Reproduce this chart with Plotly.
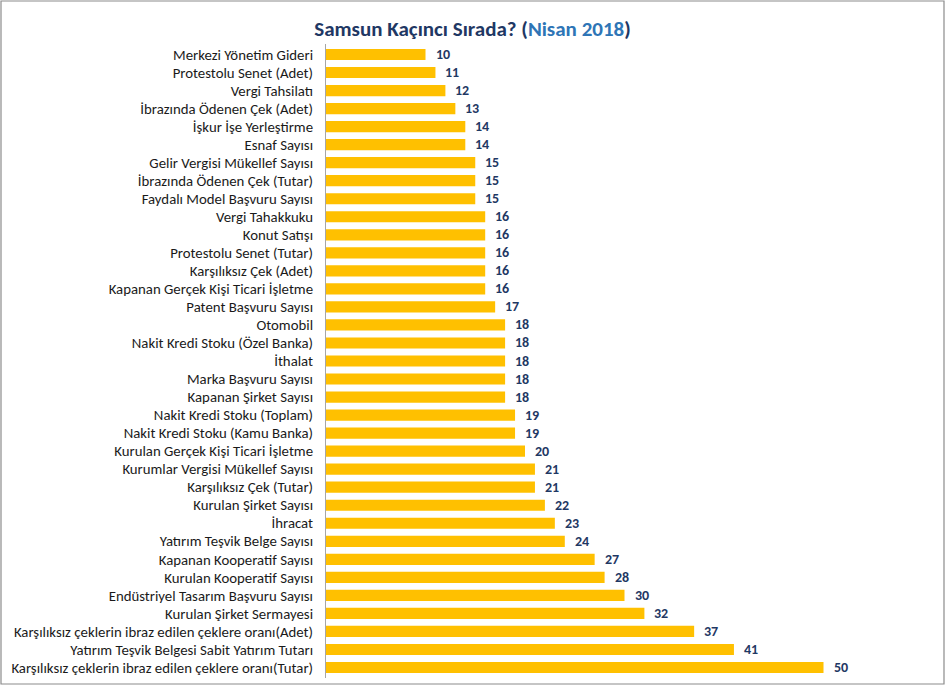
import plotly.graph_objects as go

categories = [
    "Merkezi Yönetim Gideri", "Protestolu Senet (Adet)", "Vergi Tahsilatı",
    "İbrazında Ödenen Çek (Adet)", "İşkur İşe Yerleştirme", "Esnaf Sayısı",
    "Gelir Vergisi Mükellef Sayısı", "İbrazında Ödenen Çek (Tutar)",
    "Faydalı Model Başvuru Sayısı", "Vergi Tahakkuku", "Konut Satışı",
    "Protestolu Senet (Tutar)", "Karşılıksız Çek (Adet)",
    "Kapanan Gerçek Kişi Ticari İşletme", "Patent Başvuru Sayısı", "Otomobil",
    "Nakit Kredi Stoku (Özel Banka)", "İthalat", "Marka Başvuru Sayısı",
    "Kapanan Şirket Sayısı", "Nakit Kredi Stoku (Toplam)",
    "Nakit Kredi Stoku (Kamu Banka)", "Kurulan Gerçek Kişi Ticari İşletme",
    "Kurumlar Vergisi Mükellef Sayısı", "Karşılıksız Çek (Tutar)",
    "Kurulan Şirket Sayısı", "İhracat", "Yatırım Teşvik Belge Sayısı",
    "Kapanan Kooperatif Sayısı", "Kurulan Kooperatif Sayısı",
    "Endüstriyel Tasarım Başvuru Sayısı", "Kurulan Şirket Sermayesi",
    "Karşılıksız çeklerin ibraz edilen çeklere oranı(Adet)",
    "Yatırım Teşvik Belgesi Sabit Yatırım Tutarı",
    "Karşılıksız çeklerin ibraz edilen çeklere oranı(Tutar)",
]
ranks = [10, 11, 12, 13, 14, 14, 15, 15, 15, 16, 16, 16, 16, 16, 17, 18, 18, 18,
         18, 18, 19, 19, 20, 21, 21, 22, 23, 24, 27, 28, 30, 32, 37, 41, 50]

FONT = "Carlito, Liberation Sans, Arial"
W, H = 945, 685
L, R, T, B = 326, 72, 44, 7
pw, ph = W - L - R, H - T - B

fig = go.Figure(go.Bar(
    x=ranks, y=categories, orientation="h",
    marker=dict(color="#FFC000", line=dict(width=0)),
    hoverinfo="x+y",
))

for c, v in zip(categories, ranks):
    fig.add_annotation(x=v, y=c, text=f"<b>{v}</b>", showarrow=False,
                       xanchor="left", xshift=8,
                       font=dict(family=FONT, size=14, color="#1F3864"))

fig.add_shape(type="rect", xref="paper", yref="paper",
              x0=(1 - L) / pw, x1=(W - 1 - L) / pw,
              y0=(H - B - (H - 1)) / ph, y1=(H - B - 1) / ph,
              line=dict(color="#8c8c8c", width=1.2), fillcolor="rgba(0,0,0,0)",
              layer="above")

fig.update_layout(
    width=W, height=H,
    margin=dict(l=L, r=R, t=T, b=B),
    paper_bgcolor="white", plot_bgcolor="white",
    bargap=0.38,
    showlegend=False,
    title=dict(
        text="<b>Samsun Kaçıncı Sırada? (<span style='color:#2E75B6'>Nisan 2018</span>)</b>",
        x=0.5, xref="container", xanchor="center",
        y=1 - 29 / H, yref="container", yanchor="middle",
        font=dict(family=FONT, size=21, color="#1F3864"),
    ),
    xaxis=dict(range=[0, pw / 9.95], visible=False, fixedrange=True),
    yaxis=dict(autorange="reversed", showgrid=False, zeroline=False,
               showline=True, linecolor="#a6a6a6", linewidth=1,
               tickmode="array", tickvals=categories, ticktext=categories,
               ticks="", ticklabelstandoff=9,
               tickfont=dict(family=FONT, size=14.8, color="#1a1a1a")),
)

fig.write_html("out.html", config={"displayModeBar": False},
               post_script="document.body.style.margin='0';document.body.style.padding='0';")
